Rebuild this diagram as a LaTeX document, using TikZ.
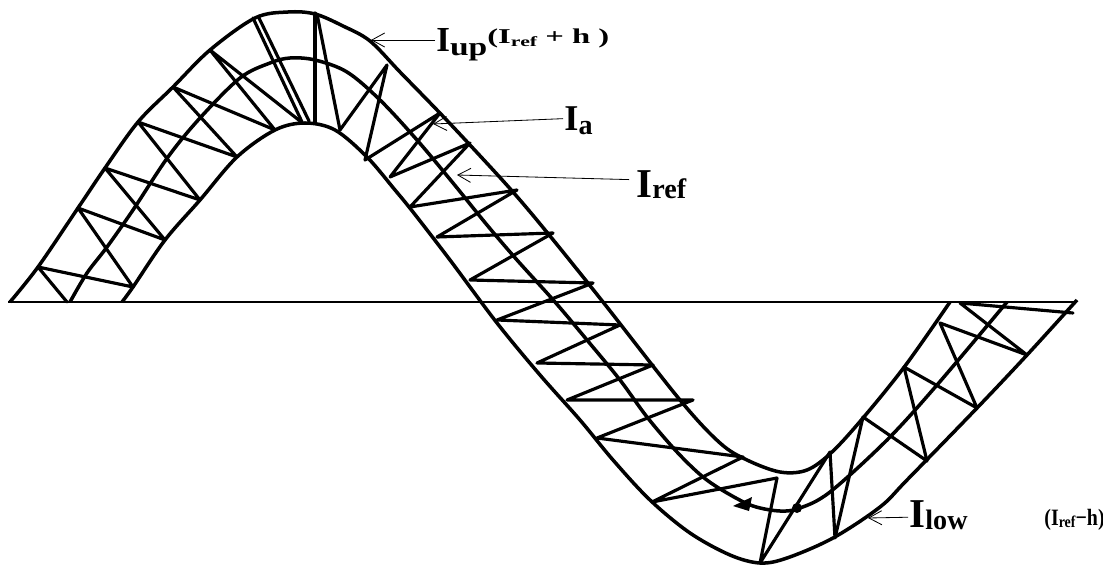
\documentclass[tikz,border=0pt]{standalone}
\usepackage{fontspec}
\setmainfont{Liberation Serif}
\usetikzlibrary{arrows.meta}

\newcommand{\lsub}[3]{\raisebox{#1}{\fontsize{#2}{#2}\selectfont #3}}

\begin{document}
\begin{tikzpicture}[
    x=0.03cm, y=-0.03cm,
    band/.style={line width=3pt, line join=round},
    zigzag/.style={line width=2.7pt, line join=round, line cap=round},
    axisline/.style={line width=2pt},
    leader/.style={line width=0.7pt, -{Straight Barb[length=11pt,width=12pt,line width=0.7pt]}},
    lbl/.style={inner sep=1pt, anchor=base west, font=\bfseries}
]
\fill[white, use as bounding box] (0,0) rectangle (1103,567);

% zero line
\draw[axisline] (8,302) -- (1077,302);

% upper band  I_ref + h
\draw[band] plot[smooth, tension=0.55] coordinates {
    (10,302) (38,267) (78,208) (105,168) (138,122) (173,87) (210,50)
    (255,18) (288,12) (315,14) (343,26) (370,41) (400,72) (437,110)
    (470,145) (513,192) (550,236) (603,302) (680,400) (720,443)
    (747,460) (780,472) (807,470) (832,452) (863,418) (905,366) (950,302)};
% reference  I_ref
\draw[band] plot[smooth, tension=0.55] coordinates {
    (70,302) (87,273) (107,247) (133,210) (168,157) (200,118) (240,78)
    (270,63) (290,58) (315,60) (347,72) (380,100) (417,140) (453,183)
    (487,225) (517,260) (555,302) (587,340) (620,380) (647,417)
    (677,452) (703,477) (727,493) (753,506) (780,511) (800,508)
    (830,492) (887,440) (937,385) (1007,302)};
% lower band  I_ref - h
\draw[band] plot[smooth, tension=0.55] coordinates {
    (122,302) (133,287) (165,240) (200,200) (237,157) (275,130)
    (305,123) (335,130) (367,157) (395,190) (413,212) (450,260)
    (497,323) (540,375) (580,420) (613,460) (650,500) (690,533)
    (730,555) (760,563) (787,558) (833,538) (880,507) (907,480)
    (977,408) (1027,355) (1077,300)};

% actual current I_a
\draw[zigzag] (67,302) -- (38,267) -- (133,287) -- (78,208) -- (165,240)
    -- (105,168) -- (200,200) -- (138,122) -- (237,157) -- (173,87)
    -- (275,130) -- (210,50) -- (300,121);
\draw[zigzag] (253,18) -- (302,122);
\draw[zigzag] (259,18) -- (309,121);
\draw[zigzag] (315,13) -- (315,122);
\draw[zigzag] (317,14) -- (340,130) -- (387,65) -- (365,160) -- (440,113)
    -- (390,177) -- (470,143) -- (410,207) -- (517,190) -- (437,237)
    -- (553,233) -- (470,280) -- (593,283) -- (497,320) -- (620,325)
    -- (537,363) -- (653,365) -- (567,400) -- (693,400) -- (597,438)
    -- (743,457) -- (652,502) -- (777,478) -- (760,563) -- (830,452)
    -- (835,538) -- (863,417) -- (927,461) -- (904,367) -- (977,408)
    -- (940,323) -- (1027,355) -- (960,303) -- (1073,313);
\fill (797,508) circle (5);
\fill (733,506) -- (752,497) -- (749,511) -- cycle;

% labels
\node[lbl] (lblUp) at (435,52) {\fontsize{30}{30}\selectfont I\lsub{-3pt}{22}{\scalebox{1.3}[1]{up}}\lsub{7pt}{18}{\scalebox{1.55}[1]{(I\lsub{-2pt}{12}{ref} + h )}}};
\node[lbl] (lblA) at (563,131) {\fontsize{31}{31}\selectfont I\lsub{-3pt}{24}{a}};
\node[lbl] (lblRef) at (635,197) {\fontsize{35}{35}\selectfont I\lsub{-1pt}{24}{ref}};
\node[lbl] (lblLow) at (908,527) {\fontsize{35}{35}\selectfont I\lsub{-2pt}{24}{low}};
\node[lbl] (lblLowH) at (1043,525) {\fontsize{20}{20}\selectfont\scalebox{0.85}[1]{(I\lsub{-2pt}{14}{ref}−h)}};

\coordinate (upTip) at (371,40);
\coordinate (aTip) at (433,124);
\coordinate (refTip) at (457,175);
\coordinate (lowTip) at (868,518);

\draw[leader] (upTip -| lblUp.west) -- (upTip);
\draw[leader] ([yshift=2pt]lblA.west) -- (aTip);
\draw[leader] ([xshift=-5pt,yshift=4pt]lblRef.west) -- (refTip);
\draw[leader] ([yshift=-2pt]lblLow.west) -- (lowTip);
\end{tikzpicture}
\end{document}
